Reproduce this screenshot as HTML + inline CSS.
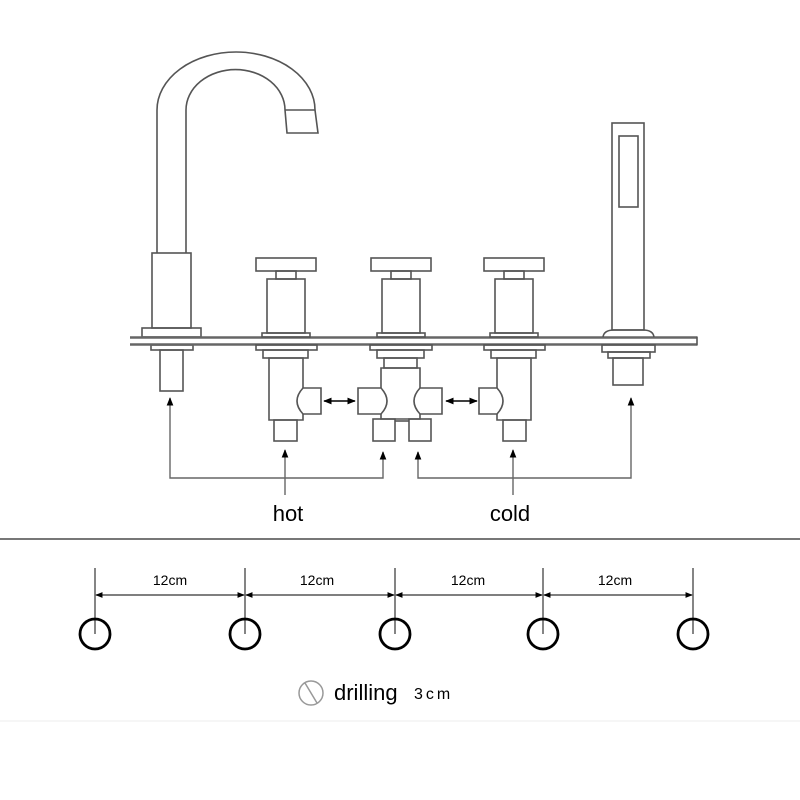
<!DOCTYPE html>
<html><head><meta charset="utf-8"><style>
html,body{margin:0;padding:0;background:#fff;width:800px;height:800px;overflow:hidden}
svg{display:block}
text{font-family:"Liberation Sans",sans-serif}
</style></head><body>
<svg width="800" height="800" viewBox="0 0 800 800" xmlns="http://www.w3.org/2000/svg">
<defs>
<marker id="ah" viewBox="0 0 10 10" refX="9" refY="5" markerWidth="6" markerHeight="6" orient="auto-start-reverse"><path d="M0,1 L10,5 L0,9 Z" fill="#000"/></marker>
</defs>
<g fill="none" stroke="#555" stroke-width="1.6">
<!-- spout -->
<path d="M157,253 V110 A79,58 0 0 1 315,110 L318,133 H287 L285,110 A49,40 0 0 0 186,110 V253"/>
<line x1="285" y1="110" x2="315" y2="110"/>
<rect x="152" y="253" width="39" height="75" fill="#fff"/>
<rect x="142" y="328" width="59" height="9"/>
<rect x="151" y="345" width="42" height="5"/>
<rect x="160" y="350" width="23" height="41"/>

<!-- deck -->
<line x1="130" y1="337.5" x2="697" y2="337.5" stroke-width="2.4" stroke="#666"/>
<line x1="130" y1="344.5" x2="697" y2="344.5" stroke-width="2.4" stroke="#666"/>
<line x1="697" y1="336.5" x2="697" y2="345.5"/>

<!-- handle tops -->
<g transform="translate(286,0)">
<rect x="-30" y="258" width="60" height="13"/><rect x="-10" y="271" width="20" height="8"/>
<rect x="-19" y="279" width="38" height="54"/><rect x="-24" y="333" width="48" height="4"/>
<rect x="-30" y="345" width="61" height="5"/><rect x="-23" y="350" width="45" height="8"/>
</g>
<g transform="translate(401,0)">
<rect x="-30" y="258" width="60" height="13"/><rect x="-10" y="271" width="20" height="8"/>
<rect x="-19" y="279" width="38" height="54"/><rect x="-24" y="333" width="48" height="4"/>
<rect x="-31" y="345" width="62" height="5"/><rect x="-24" y="350" width="47" height="8"/>
</g>
<g transform="translate(514,0)">
<rect x="-30" y="258" width="60" height="13"/><rect x="-10" y="271" width="20" height="8"/>
<rect x="-19" y="279" width="38" height="54"/><rect x="-24" y="333" width="48" height="4"/>
<rect x="-30" y="345" width="61" height="5"/><rect x="-23" y="350" width="45" height="8"/>
</g>

<!-- hot valve -->
<path d="M303,388 V358 H269 V420 H303 V414"/>
<path d="M303,388 H321 V414 H303 Q291,401 303,388"/>
<rect x="274" y="420" width="23" height="21"/>
<!-- cold valve -->
<path d="M497,388 V358 H531 V420 H497 V414"/>
<path d="M497,388 H479 V414 H497 Q509,401 497,388"/>
<rect x="503" y="420" width="23" height="21"/>
<!-- middle -->
<rect x="384" y="358" width="33" height="10"/>
<path d="M381,388 V368 H420 V388 M420,414 V419 H381 V414"/>
<path d="M381,388 H358 V414 H381 Q393,401 381,388"/>
<path d="M420,388 H442 V414 H420 Q408,401 420,388"/>
<rect x="373" y="419" width="22" height="22"/>
<rect x="409" y="419" width="22" height="22"/>
<line x1="395" y1="421" x2="409" y2="421"/>

<!-- hand shower -->
<rect x="612" y="123" width="32" height="207"/>
<rect x="619" y="136" width="19" height="71"/>
<path d="M603,337 Q604,330 614,330 H643 Q653,330 654,337"/>
<rect x="602" y="345" width="53" height="7"/>
<rect x="608" y="352" width="42" height="6"/>
<rect x="613" y="358" width="30" height="27"/>
</g>

<!-- connectors -->
<g fill="none" stroke="#666" stroke-width="1.4">
<path d="M170,398 V478 H383 V452" marker-start="url(#ah)" marker-end="url(#ah)"/>
<path d="M418,452 V478 H631 V398" marker-start="url(#ah)" marker-end="url(#ah)"/>
<path d="M285,495 V450" marker-end="url(#ah)"/>
<path d="M513,495 V450" marker-end="url(#ah)"/>
<path d="M324,401 H355" stroke="#000" marker-start="url(#ah)" marker-end="url(#ah)"/>
<path d="M446,401 H477" stroke="#000" marker-start="url(#ah)" marker-end="url(#ah)"/>
</g>
<text x="288" y="521" font-size="22" text-anchor="middle" fill="#000">hot</text>
<text x="510" y="521" font-size="22" text-anchor="middle" fill="#000">cold</text>

<line x1="0" y1="539" x2="800" y2="539" stroke="#777" stroke-width="2"/>
<rect x="0" y="720" width="800" height="2" fill="#f6f6f6"/>

<!-- holes -->
<g stroke="#333" stroke-width="1.2" fill="none">
<line x1="95" y1="568" x2="95" y2="634"/><line x1="245" y1="568" x2="245" y2="634"/>
<line x1="395" y1="568" x2="395" y2="634"/><line x1="543" y1="568" x2="543" y2="634"/>
<line x1="693" y1="568" x2="693" y2="634"/>
<path d="M96,595 H244" marker-start="url(#ah)" marker-end="url(#ah)"/>
<path d="M246,595 H394" marker-start="url(#ah)" marker-end="url(#ah)"/>
<path d="M396,595 H542" marker-start="url(#ah)" marker-end="url(#ah)"/>
<path d="M544,595 H692" marker-start="url(#ah)" marker-end="url(#ah)"/>
</g>
<g stroke="#000" stroke-width="2.8" fill="none">
<circle cx="95" cy="634" r="15"/><circle cx="245" cy="634" r="15"/><circle cx="395" cy="634" r="15"/>
<circle cx="543" cy="634" r="15"/><circle cx="693" cy="634" r="15"/>
</g>
<g font-size="14" fill="#000" text-anchor="middle">
<text x="170" y="585">12cm</text><text x="317" y="585">12cm</text>
<text x="468" y="585">12cm</text><text x="615" y="585">12cm</text>
</g>
<circle cx="311" cy="693" r="12" fill="none" stroke="#999" stroke-width="1.5"/>
<line x1="305" y1="683" x2="317" y2="703" stroke="#999" stroke-width="1.5"/>
<text x="334" y="700" font-size="22" fill="#000">drilling</text>
<text x="414" y="699" font-size="16" fill="#000" letter-spacing="3">3cm</text>
</svg>
</body></html>
